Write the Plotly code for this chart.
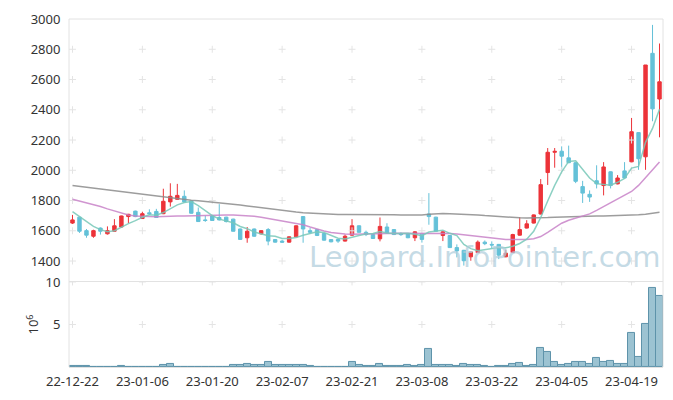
import plotly.graph_objects as go
import pandas as pd

dates = [
    "22-12-22", "22-12-23", "22-12-26", "22-12-27", "22-12-28", "22-12-29",
    "23-01-02", "23-01-03", "23-01-04", "23-01-05", "23-01-06", "23-01-09",
    "23-01-10", "23-01-11", "23-01-12", "23-01-13", "23-01-16", "23-01-17",
    "23-01-18", "23-01-19", "23-01-20", "23-01-25", "23-01-26", "23-01-27",
    "23-01-30", "23-01-31", "23-02-01", "23-02-02", "23-02-03", "23-02-06",
    "23-02-07", "23-02-08", "23-02-09", "23-02-10", "23-02-13", "23-02-14",
    "23-02-15", "23-02-16", "23-02-17", "23-02-20", "23-02-21", "23-02-22",
    "23-02-23", "23-02-24", "23-02-27", "23-02-28", "23-03-02", "23-03-03",
    "23-03-06", "23-03-07", "23-03-08", "23-03-09", "23-03-10", "23-03-13",
    "23-03-14", "23-03-15", "23-03-16", "23-03-17", "23-03-20", "23-03-21",
    "23-03-22", "23-03-23", "23-03-24", "23-03-27", "23-03-28", "23-03-29",
    "23-03-30", "23-03-31", "23-04-03", "23-04-04", "23-04-05", "23-04-06",
    "23-04-07", "23-04-10", "23-04-11", "23-04-12", "23-04-13", "23-04-14",
    "23-04-17", "23-04-18", "23-04-19", "23-04-20", "23-04-21", "23-04-24",
    "23-04-25",
]

opens = [1651, 1690, 1601, 1564, 1618, 1580, 1597, 1625, 1694, 1730,
         1681, 1719, 1728, 1713, 1791, 1808, 1828, 1797, 1722, 1672,
         1698, 1688, 1690, 1677, 1612, 1554, 1612, 1580, 1608, 1542,
         1532, 1525, 1560, 1694, 1601, 1608, 1582, 1542, 1542, 1532,
         1571, 1633, 1590, 1575, 1547, 1625, 1608, 1580, 1580, 1554,
         1580, 1711, 1690, 1569, 1569, 1489, 1471, 1428, 1456, 1525,
         1510, 1510, 1428, 1456, 1571, 1618, 1651, 1711, 1985, 2119,
         2126, 2082, 2050, 1892, 1841, 1931, 1899, 1990, 1910, 1996,
         2056, 2249, 2089, 2773, 2471]
highs = [1705, 1692, 1612, 1607, 1622, 1629, 1677, 1700, 1712, 1733,
         1726, 1742, 1745, 1878, 1914, 1910, 1867, 1800, 1754, 1700,
         1705, 1776, 1693, 1680, 1615, 1625, 1615, 1603, 1618, 1545,
         1540, 1563, 1636, 1697, 1618, 1611, 1585, 1545, 1545, 1575,
         1677, 1636, 1601, 1578, 1688, 1650, 1611, 1590, 1583, 1597,
         1583, 1849, 1693, 1596, 1572, 1510, 1474, 1463, 1536, 1536,
         1530, 1513, 1475, 1580, 1690, 1670, 1708, 1942, 2147, 2147,
         2158, 2163, 2053, 1930, 1867, 2033, 2054, 1993, 1968, 2054,
         2346, 2252, 2696, 2961, 2838]
lows = [1645, 1586, 1554, 1554, 1575, 1575, 1594, 1620, 1651, 1690,
        1678, 1705, 1685, 1710, 1760, 1805, 1788, 1713, 1658, 1659,
        1665, 1668, 1655, 1595, 1540, 1521, 1560, 1575, 1504, 1522,
        1520, 1522, 1557, 1521, 1580, 1565, 1535, 1524, 1520, 1529,
        1568, 1587, 1565, 1546, 1530, 1583, 1572, 1566, 1551, 1532,
        1522, 1640, 1594, 1532, 1486, 1424, 1370, 1402, 1453, 1505,
        1485, 1413, 1425, 1453, 1568, 1615, 1648, 1708, 1903, 2017,
        2007, 2047, 1915, 1784, 1791, 1880, 1834, 1880, 1907, 1946,
        2053, 2003, 2003, 2324, 2218]
closes = [1672, 1597, 1571, 1601, 1597, 1601, 1633, 1698, 1709, 1694,
          1713, 1713, 1688, 1795, 1828, 1834, 1791, 1716, 1661, 1668,
          1668, 1672, 1661, 1597, 1543, 1597, 1564, 1601, 1532, 1525,
          1525, 1560, 1633, 1612, 1590, 1569, 1538, 1527, 1532, 1564,
          1633, 1590, 1575, 1549, 1629, 1586, 1575, 1575, 1554, 1593,
          1543, 1694, 1597, 1593, 1489, 1467, 1402, 1460, 1525, 1515,
          1506, 1439, 1452, 1575, 1608, 1646, 1705, 1905, 2119, 2125,
          2093, 2050, 1927, 1849, 1823, 1910, 2022, 1899, 1949, 1949,
          2255, 2076, 2696, 2406, 2585]

volume = [0.10, 0.10, 0.10, 0.02, 0.02, 0.02, 0.02, 0.10, 0.02, 0.02,
          0.02, 0.02, 0.02, 0.27, 0.38, 0.05, 0.05, 0.05, 0.05, 0.05,
          0.05, 0.05, 0.05, 0.27, 0.27, 0.38, 0.20, 0.20, 0.61, 0.20,
          0.27, 0.20, 0.27, 0.20, 0.07, 0.05, 0.05, 0.05, 0.05, 0.05,
          0.61, 0.20, 0.07, 0.07, 0.38, 0.07, 0.07, 0.07, 0.20, 0.07,
          0.27, 2.10, 0.27, 0.20, 0.27, 0.07, 0.38, 0.20, 0.20, 0.07,
          0.00, 0.07, 0.07, 0.38, 0.50, 0.07, 0.20, 2.22, 1.76, 0.61,
          0.27, 0.38, 0.61, 0.61, 0.38, 1.07, 0.61, 0.73, 0.38, 0.38,
          3.95, 1.23, 5.10, 9.24, 8.30]

ma5_head = [1726, 1695, 1661, 1629]

ma20 = [1809, 1798, 1786, 1773, 1760, 1745, 1731, 1715, 1705, 1698,
        1694, 1694, 1693, 1693, 1694, 1697, 1698, 1700, 1702, 1703,
        1704, 1705, 1705, 1704, 1702, 1699, 1696, 1690, 1682, 1672,
        1664, 1657, 1651, 1640, 1625, 1610, 1598, 1588, 1582, 1578,
        1577, 1579, 1580, 1581, 1582, 1582, 1583, 1583, 1584, 1585,
        1585, 1585, 1585, 1585, 1582, 1578, 1573, 1566, 1560, 1555,
        1550, 1546, 1543, 1542, 1542, 1543, 1548, 1562, 1590, 1620,
        1650, 1670, 1685, 1698, 1712, 1735, 1760, 1785, 1810, 1833,
        1860, 1900, 1950, 2000, 2055]

ma60 = [1899, 1893, 1887, 1881, 1875, 1869, 1864, 1858, 1852, 1846,
        1840, 1835, 1829, 1823, 1817, 1811, 1806, 1802, 1799, 1795,
        1791, 1787, 1782, 1776, 1770, 1764, 1758, 1751, 1745, 1739,
        1733, 1728, 1724, 1720, 1717, 1714, 1711, 1709, 1708, 1708,
        1708, 1708, 1709, 1709, 1709, 1708, 1706, 1704, 1703, 1703,
        1705, 1710, 1713, 1714, 1713, 1712, 1710, 1708, 1705, 1701,
        1697, 1693, 1690, 1688, 1686, 1685, 1685, 1686, 1688, 1690,
        1692, 1693, 1694, 1695, 1696, 1697, 1698, 1699, 1700, 1702,
        1704, 1706, 1710, 1716, 1722]

price_ticks = [1400, 1600, 1800, 2000, 2200, 2400, 2600, 2800, 3000]
vol_ticks = [5, 10]
x_ticks = dates[::10]

# 5-day moving average of closes (first values taken from chart)
ma5 = list(pd.Series(closes).rolling(5).mean())
ma5[:4] = ma5_head

UP = "#ec3339"
DOWN = "#64c1d8"
GRID = "#e4e4e4"
FONT = "Noto Sans"

fig = go.Figure()

fig.add_trace(go.Bar(x=dates, y=volume, xaxis="x", yaxis="y2",
                     marker=dict(color="#9cc3d2", line=dict(color="#5e93aa", width=1)),
                     showlegend=False, hoverinfo="skip"))

# grid crosses
gx, gy = [], []
for xv in x_ticks:
    for yv in price_ticks[:-1]:
        gx.append(xv)
        gy.append(yv)
fig.add_trace(go.Scatter(x=gx, y=gy, mode="markers", xaxis="x", yaxis="y",
                         marker=dict(symbol="cross-thin", size=5,
                                     line=dict(color=GRID, width=1)),
                         hoverinfo="skip", showlegend=False))
vx, vy = [], []
for xv in x_ticks:
    for yv in vol_ticks:
        vx.append(xv)
        vy.append(yv)
fig.add_trace(go.Scatter(x=vx, y=vy, mode="markers", xaxis="x", yaxis="y2",
                         marker=dict(symbol="cross-thin", size=5,
                                     line=dict(color=GRID, width=1)),
                         hoverinfo="skip", showlegend=False))

fig.add_trace(go.Candlestick(
    x=dates, open=opens, high=highs, low=lows, close=closes,
    increasing=dict(line=dict(color=UP, width=1), fillcolor=UP),
    decreasing=dict(line=dict(color=DOWN, width=1), fillcolor=DOWN),
    whiskerwidth=0, xaxis="x", yaxis="y", showlegend=False, hoverinfo="skip"))

fig.add_trace(go.Scatter(x=dates, y=ma60, mode="lines", xaxis="x", yaxis="y",
                         line=dict(color="rgba(140,140,140,0.85)", width=1.5),
                         showlegend=False, hoverinfo="skip"))
fig.add_trace(go.Scatter(x=dates, y=ma20, mode="lines", xaxis="x", yaxis="y",
                         line=dict(color="rgba(200,130,200,0.85)", width=1.5),
                         showlegend=False, hoverinfo="skip"))
fig.add_trace(go.Scatter(x=dates, y=ma5, mode="lines", xaxis="x", yaxis="y",
                         line=dict(color="rgba(120,200,185,0.85)", width=1.5),
                         showlegend=False, hoverinfo="skip"))

fig.update_layout(
    width=673, height=400,
    margin=dict(l=69, r=10, t=15, b=29),
    paper_bgcolor="white", plot_bgcolor="white",
    font=dict(family=FONT, size=13, color="#333333"),
    bargap=0,
    xaxis=dict(type="category", categoryorder="array", categoryarray=dates,
               range=[-0.5, 84.5], anchor="y2",
               tickvals=x_ticks, ticktext=x_ticks, tickangle=0, showgrid=False,
               showline=True, mirror=True, linecolor="#e2e2e2", linewidth=1,
               ticks="outside", ticklen=2, tickcolor="rgba(0,0,0,0)",
               rangeslider=dict(visible=False), zeroline=False,
               tickfont=dict(size=13, color="#333333")),
    yaxis=dict(domain=[0.261, 1], range=[1300, 3000], tickvals=price_ticks,
               showgrid=False, zeroline=False, anchor="x",
               ticks="outside", ticklen=5, tickcolor="rgba(0,0,0,0)",
               tickfont=dict(size=13, color="#333333")),
    yaxis2=dict(domain=[0, 0.2444], range=[0, 10], tickvals=vol_ticks,
                showgrid=False, zeroline=False, anchor="x",
                ticks="outside", ticklen=5, tickcolor="rgba(0,0,0,0)",
                title=dict(text="10<sup>6</sup>", standoff=3,
                           font=dict(size=13, color="#333333")),
                tickfont=dict(size=13, color="#333333")),
    shapes=[
        dict(type="line", xref="paper", yref="paper", x0=0, x1=0, y0=0, y1=1,
             line=dict(color="#e2e2e2", width=1)),
        dict(type="line", xref="paper", yref="paper", x0=1, x1=1, y0=0, y1=1,
             line=dict(color="#e2e2e2", width=1)),
        dict(type="line", xref="paper", yref="paper", x0=0, x1=1, y0=1, y1=1,
             line=dict(color="#e2e2e2", width=1)),
    ],
    annotations=[
        dict(text="Leopard.InfoPointer.com", xref="paper", yref="paper",
             x=0.70, y=0.317, xanchor="center", yanchor="middle", showarrow=False,
             font=dict(family="DejaVu Sans", size=29, color="rgba(175,205,220,0.72)"))
    ],
)

fig.write_html("out.html", config={"displayModeBar": False},
               post_script="document.body.style.margin='0';document.body.style.padding='0';")
